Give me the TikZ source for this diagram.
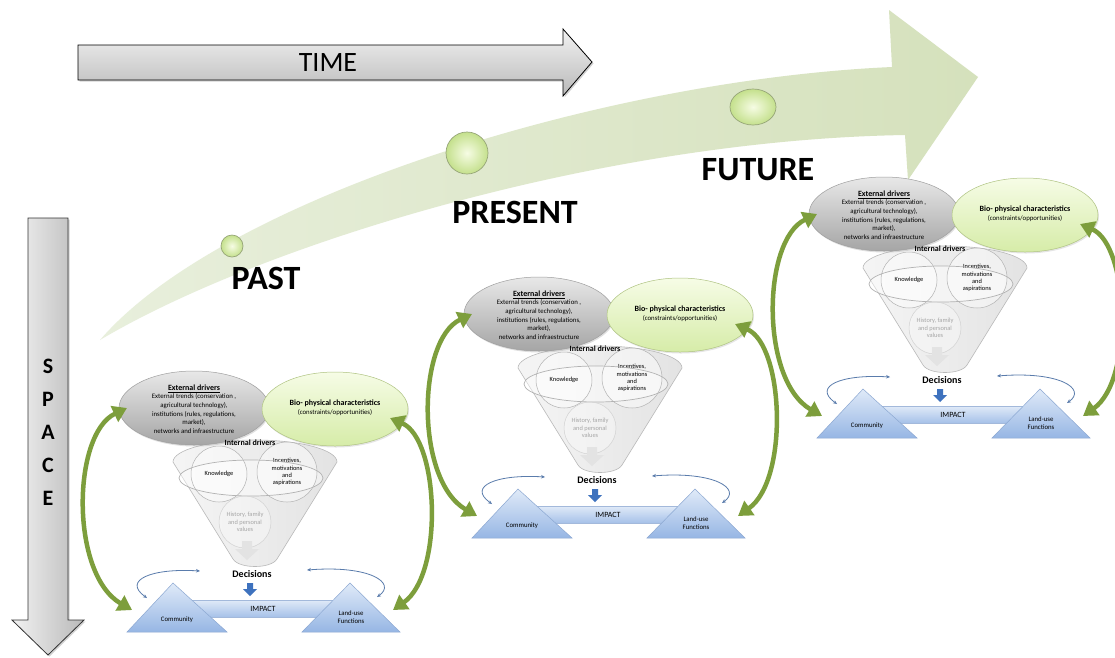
\documentclass[tikz,border=0pt]{standalone}
\usepackage{fontspec}
\setmainfont{Carlito}
\usetikzlibrary{shapes.geometric,arrows.meta,shadows,calc}

\definecolor{timeT}{RGB}{242,242,242}
\definecolor{timeB}{RGB}{185,185,185}
\definecolor{trailL}{RGB}{232,239,220}
\definecolor{trailR}{RGB}{213,225,188}
\definecolor{dotIn}{RGB}{246,252,228}
\definecolor{dotOut}{RGB}{196,224,140}
\definecolor{dotLine}{RGB}{150,165,120}
\definecolor{extT}{RGB}{232,232,232}
\definecolor{extB}{RGB}{165,165,165}
\definecolor{bioT}{RGB}{246,252,230}
\definecolor{bioB}{RGB}{214,236,168}
\definecolor{bioLine}{RGB}{175,195,130}
\definecolor{triT}{RGB}{224,234,248}
\definecolor{triB}{RGB}{150,182,228}
\definecolor{triLine}{RGB}{140,168,210}
\definecolor{thinblue}{RGB}{90,124,172}
\definecolor{decblue}{RGB}{62,114,190}
\definecolor{loopgreen}{RGB}{125,158,60}

\tikzset{
  x=1pt, y=-1pt,
  every node/.style={inner sep=0pt, align=center, text=black},
  bigtxt/.style={font=\fontsize{34}{36}\selectfont\bfseries},
  dot/.style={draw=dotLine, line width=0.7pt, inner color=dotIn, outer color=dotOut},
  extell/.style={ellipse, draw=gray!75, line width=0.5pt, top color=extT, bottom color=extB,
    minimum width=150pt, minimum height=74pt,
    drop shadow={shadow xshift=1pt, shadow yshift=-1.5pt, opacity=0.25}},
  bioell/.style={ellipse, draw=bioLine, line width=0.5pt, top color=bioT, bottom color=bioB,
    minimum width=146pt, minimum height=74pt,
    drop shadow={shadow xshift=1pt, shadow yshift=-1.5pt, opacity=0.2}},
  funnelbody/.style={draw=gray!55, line width=0.6pt, left color=gray!8, right color=gray!22},
  rimline/.style={draw=gray!60, line width=0.7pt},
  bubble/.style={circle, draw=gray!60, line width=0.5pt, fill=white, fill opacity=0.45, text opacity=1},
  histbubble/.style={circle, draw=gray!35, line width=0.5pt, fill=white, fill opacity=0.3, text opacity=1, text=gray!70},
  tiny/.style={font=\fontsize{6.4}{7.4}\selectfont},
  small/.style={font=\fontsize{6.8}{8.6}\selectfont},
  tri/.style={draw=triLine, line width=0.5pt, top color=triT, bottom color=triB},
  impactbar/.style={draw=triLine!80, line width=0.5pt, top color=triT, bottom color=triB!85},
  thinarr/.style={draw=thinblue, line width=0.8pt, {Stealth[length=4pt,width=3.5pt]}-{Stealth[length=4pt,width=3.5pt]}},
  looparr/.style={draw=loopgreen, line width=4.5pt, {Triangle[width=17pt,length=14pt]}-{Triangle[width=17pt,length=14pt]}},
}

% One decision panel, placed by the position of its "Decisions" label
\newcommand{\decisionpanel}[3]{%
\begin{scope}[shift={(#1,#2)}]
  % funnel of internal drivers
  \path[funnelbody] (-79,-112) arc[start angle=180, end angle=360, x radius=82, y radius=22]
     -- (25,-15) .. controls (19,-5) and (-13,-5) .. (-19,-15) -- cycle;
  \fill[white, opacity=0.45] (-1,-96) ellipse[x radius=72, y radius=18];
  \node[bubble, minimum size=56pt, tiny] (know#3) at (-33,-100) {Knowledge};
  \node[bubble, minimum size=60pt, tiny] (inc#3) at (35,-102) {Incentives,\\motivations\\and\\aspirations};
  \draw[rimline] (-1,-96) ellipse[x radius=72, y radius=18];
  \node[histbubble, minimum size=52pt, tiny] (hist#3) at (-7,-52) {History, family\\and personal\\values};
  \fill[gray!22] (-10,-33) -- (0,-33) -- (0,-25) -- (7,-25) -- (-5,-14) -- (-17,-25) -- (-10,-25) -- cycle;
  % external and bio-physical drivers
  \node[extell] (ext#3) at (-58,-166) {};
  \node[small] at ([yshift=-1pt]ext#3.center) {\fontsize{8}{10}\selectfont\bfseries\underline{External drivers}\\External trends (conservation ,\\agricultural technology),\\institutions (rules, regulations,\\market),\\networks and infraestructure};
  \node[bioell] (bio#3) at (83,-165) {};
  \node[small] at ([yshift=1pt]bio#3.center) {\fontsize{8}{10}\selectfont\bfseries Bio- physical characteristics\\(constraints/opportunities)};
  \node[font=\fontsize{8}{9}\selectfont\bfseries] (int#3) at (-2,-131) {Internal drivers};
  % decisions and impact
  \node[font=\fontsize{10}{11}\selectfont\bfseries] (dec#3) at (0,0) {Decisions};
  \fill[decblue] (-5,9) -- (1,9) -- (1,15) -- (5,15) -- (-2,22) -- (-9,15) -- (-5,15) -- cycle;
  \path[impactbar] (-65,26) rectangle (91,43);
  \node[font=\fontsize{8}{9}\selectfont] (imp#3) at (11,35) {IMPACT};
  \path[tri] (-125,58) -- (-25,58) -- (-79,9) -- cycle;
  \path[tri] (50,58) -- (148,58) -- (98,9) -- cycle;
  \node[small] (com#3) at (-75,46) {Community};
  \node[small] (land#3) at (99,43) {Land-use\\Functions};
  % feedback arrows
  \coordinate (cl#3) at (-105,24);
  \coordinate (cr#3) at (-52,-3);
  \coordinate (ll#3) at (55,-4);
  \coordinate (lr#3) at (125,23);
  \draw[thinarr] (cl#3) .. controls (-130,6) and (-100,-6) .. (cr#3);
  \draw[thinarr] (ll#3) .. controls (118,-9) and (145,9) .. (lr#3);
  \coordinate (gb#3) at (-120,36);
  \coordinate (gt#3) at (-125,-166);
  \coordinate (rt#3) at (138,-156);
  \coordinate (rb#3) at (141,36);
  \draw[looparr] (gb#3) .. controls (-182,0) and (-180,-140) .. (gt#3);
  \draw[looparr] (rt#3) .. controls (187,-135) and (192,0) .. (rb#3);
\end{scope}}

\begin{document}
\begin{tikzpicture}
\useasboundingbox (0,0) rectangle (1115,657);
\fill[white] (0,0) rectangle (1115,657);

% curved time trail
\path[left color=trailL, right color=trailR]
  (100,340) .. controls (220,200) and (600,80) .. (892,67)
  -- (889,10) -- (978,77) -- (908,180) -- (905,135)
  .. controls (600,140) and (260,245) .. (100,340) -- cycle;
\coordinate (tailend) at (100,340);

% points in time
\path[dot] (232,246) circle[radius=11];
\node (pastdot) at (232,246) {};
\path[dot] (467,153) circle[radius=21];
\node (presdot) at (467,153) {};
\path[dot] (753,107) ellipse[x radius=23, y radius=18];
\node (futdot) at (753,107) {};
\node[bigtxt] (past) at (266,278) {PAST};
\node[bigtxt] (present) at (515,212) {PRESENT};
\node[bigtxt] (future) at (758,170) {FUTURE};

% TIME arrow
\path[draw=black, line width=0.8pt, top color=timeT, bottom color=timeB,
      drop shadow={shadow xshift=1.5pt, shadow yshift=-1.5pt, opacity=0.35}]
  (78,45) -- (563,45) -- (563,29) -- (592,62) -- (563,96) -- (563,80) -- (78,80) -- cycle;
\node[font=\fontsize{28}{30}\selectfont] (time) at (328,63) {TIME};

% SPACE arrow
\path[draw=black!80, line width=0.8pt, left color=timeT, right color=timeB,
      drop shadow={shadow xshift=1.5pt, shadow yshift=-1.5pt, opacity=0.35}]
  (28,218) -- (68,218) -- (68,620) -- (84,620) -- (48,655) -- (12,620) -- (28,620) -- cycle;
\node[font=\fontsize{22}{33}\selectfont\bfseries] (space) at (48,432) {S\\P\\A\\C\\E};

% panels along the trail
\decisionpanel{252}{574}{1}
\decisionpanel{597}{480}{2}
\decisionpanel{942}{380}{3}
\end{tikzpicture}
\end{document}
